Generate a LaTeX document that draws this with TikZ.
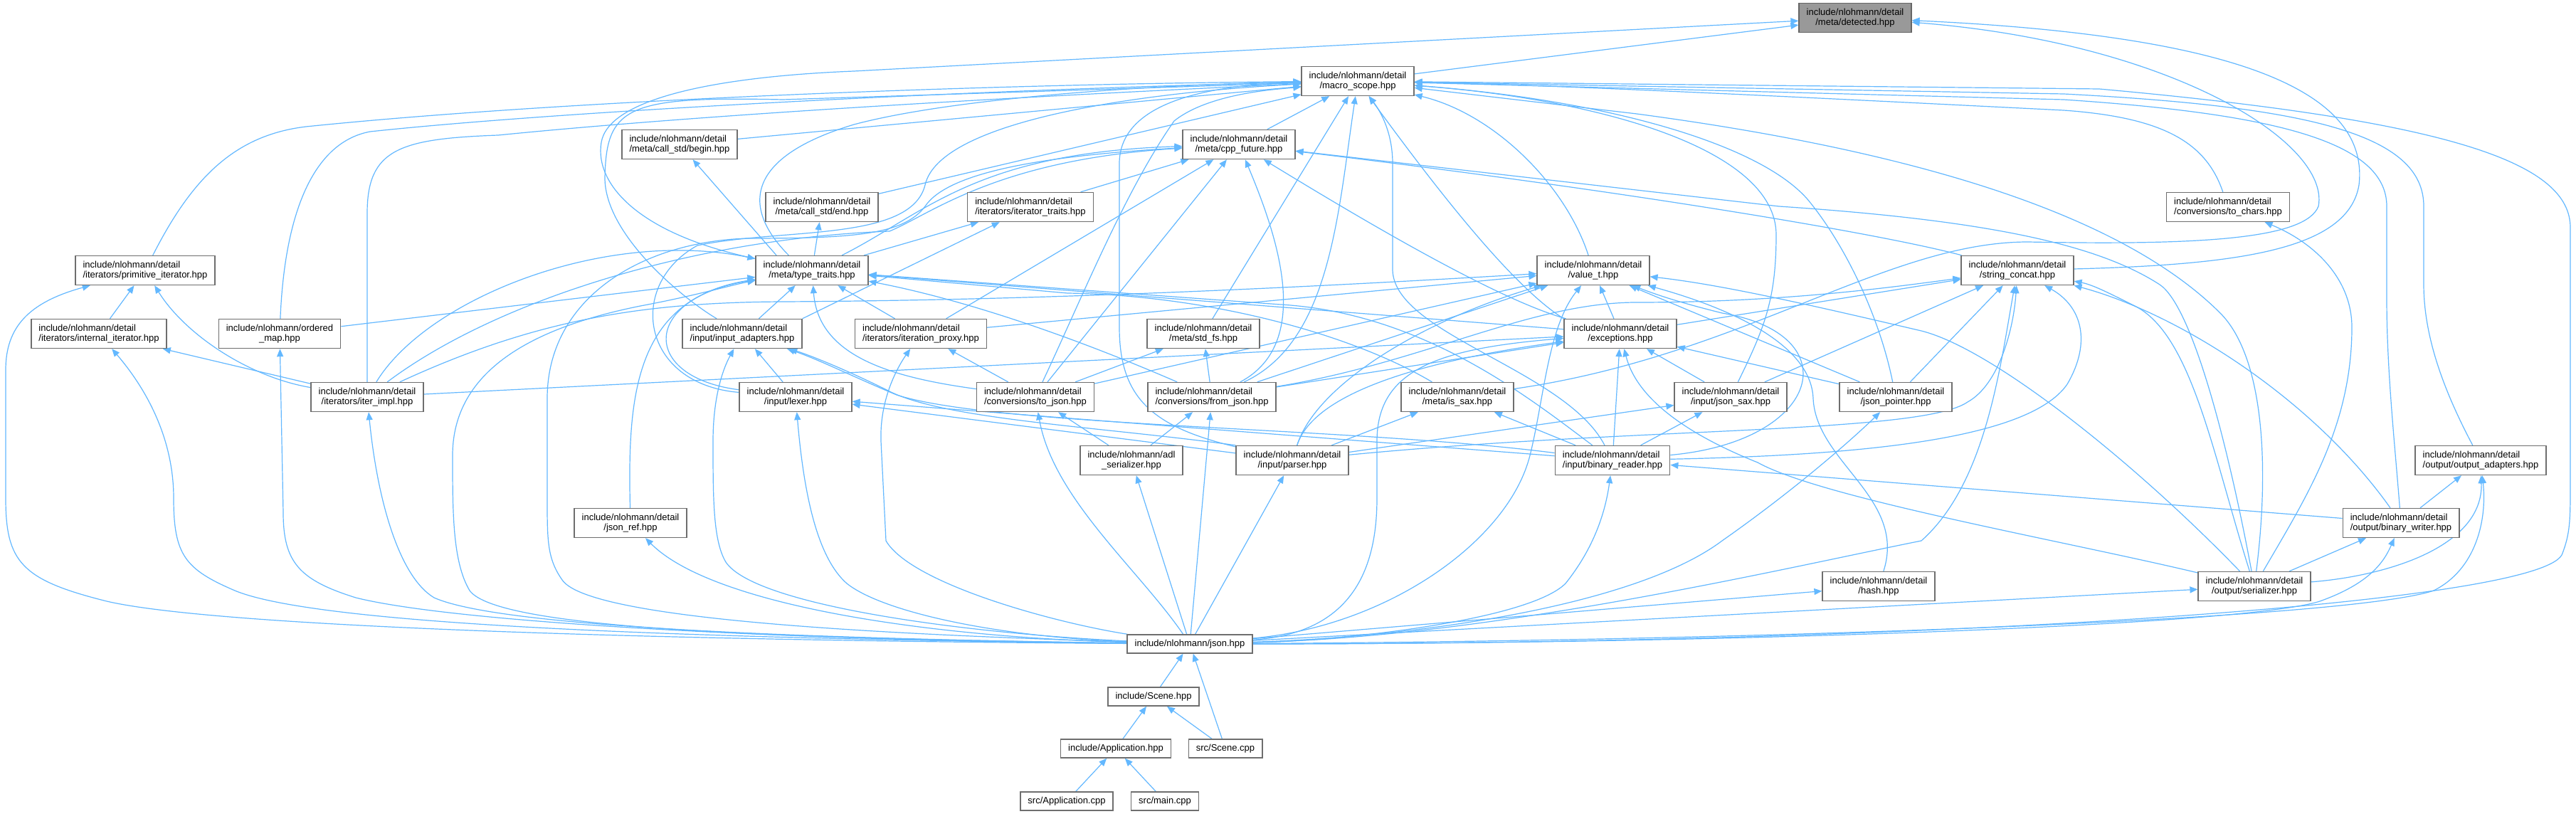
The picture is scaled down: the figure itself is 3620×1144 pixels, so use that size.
\documentclass[tikz,border=0pt]{standalone}
\usepackage{fontspec}
\setmainfont{Liberation Sans}
\usetikzlibrary{arrows.meta,backgrounds}
\definecolor{edgeblue}{RGB}{99,184,255}
\definecolor{nodeborder}{RGB}{110,110,110}
\definecolor{rootfill}{RGB}{153,153,153}
\definecolor{rootborder}{RGB}{102,102,102}

\begin{document}
\begin{tikzpicture}[
  x=0.5pt, y=-0.5pt,
  >={Triangle[length=5.5pt,width=4.5pt]},
  hdr/.style={rectangle, draw=nodeborder, line width=0.7pt, fill=white, align=center, font=\fontsize{6.5}{7.2}\selectfont, inner xsep=5.3pt, inner ysep=2pt, minimum height=20.5pt},
  hdrl/.style={hdr, align=left},
  hdrs/.style={hdr, minimum height=13pt},
  root/.style={hdr, fill=rootfill, draw=rootborder},
  incl/.style={->, draw=edgeblue, line width=0.6pt}
]
\useasboundingbox (0,0) rectangle (3620,1144);
\node[root] (detected) at (2607,25) {include/nlohmann/detail\\/meta/detected.hpp};
\node[hdr] (macro) at (1908,114) {include/nlohmann/detail\\/macro\_scope.hpp};
\node[hdrl] (begin) at (955,203) {include/nlohmann/detail\\/meta/call\_std/begin.hpp};
\node[hdr] (cppfut) at (1741,203) {include/nlohmann/detail\\/meta/cpp\_future.hpp};
\node[hdr] (endh) at (1155,291) {include/nlohmann/detail\\/meta/call\_std/end.hpp};
\node[hdrl] (itertraits) at (1448,291) {include/nlohmann/detail\\/iterators/iterator\_traits.hpp};
\node[hdrl] (tochars) at (3131,291) {include/nlohmann/detail\\/conversions/to\_chars.hpp};
\node[hdrl] (primit) at (204,380) {include/nlohmann/detail\\/iterators/primitive\_iterator.hpp};
\node[hdr] (typetr) at (1141,380) {include/nlohmann/detail\\/meta/type\_traits.hpp};
\node[hdr] (valuet) at (2239,380) {include/nlohmann/detail\\/value\_t.hpp};
\node[hdr] (strcat) at (2835,380) {include/nlohmann/detail\\/string\_concat.hpp};
\node[hdrl] (internal) at (139,469) {include/nlohmann/detail\\/iterators/internal\_iterator.hpp};
\node[hdr] (omap) at (393,469) {include/nlohmann/ordered\\\_map.hpp};
\node[hdrl] (inadapt) at (1043,469) {include/nlohmann/detail\\/input/input\_adapters.hpp};
\node[hdrl] (iterproxy) at (1294,469) {include/nlohmann/detail\\/iterators/iteration\_proxy.hpp};
\node[hdr] (stdfs) at (1691,469) {include/nlohmann/detail\\/meta/std\_fs.hpp};
\node[hdr] (except) at (2277,469) {include/nlohmann/detail\\/exceptions.hpp};
\node[hdr] (iterimpl) at (516,558) {include/nlohmann/detail\\/iterators/iter\_impl.hpp};
\node[hdr] (lexer) at (1118,558) {include/nlohmann/detail\\/input/lexer.hpp};
\node[hdrl] (tojson) at (1455,558) {include/nlohmann/detail\\/conversions/to\_json.hpp};
\node[hdrl] (fromjson) at (1703,558) {include/nlohmann/detail\\/conversions/from\_json.hpp};
\node[hdr] (issax) at (2048,558) {include/nlohmann/detail\\/meta/is\_sax.hpp};
\node[hdr] (jsonsax) at (2432,558) {include/nlohmann/detail\\/input/json\_sax.hpp};
\node[hdr] (jptr) at (2664,558) {include/nlohmann/detail\\/json\_pointer.hpp};
\node[hdr] (adl) at (1590,647) {include/nlohmann/adl\\\_serializer.hpp};
\node[hdr] (parser) at (1816,647) {include/nlohmann/detail\\/input/parser.hpp};
\node[hdrl] (breader) at (2266,647) {include/nlohmann/detail\\/input/binary\_reader.hpp};
\node[hdrl] (oadapt) at (3486,647) {include/nlohmann/detail\\/output/output\_adapters.hpp};
\node[hdr] (jsonref) at (886,735) {include/nlohmann/detail\\/json\_ref.hpp};
\node[hdrl] (bwriter) at (3374,735) {include/nlohmann/detail\\/output/binary\_writer.hpp};
\node[hdr] (hash) at (2640,824) {include/nlohmann/detail\\/hash.hpp};
\node[hdr] (serial) at (3168,824) {include/nlohmann/detail\\/output/serializer.hpp};
\node[hdrs] (json) at (1672,905) {include/nlohmann/json.hpp};
\node[hdrs] (scene) at (1621,979) {include/Scene.hpp};
\node[hdrs] (app) at (1568,1052) {include/Application.hpp};
\node[hdrs] (scenecpp) at (1722,1052) {src/Scene.cpp};
\node[hdrs] (appcpp) at (1499,1126) {src/Application.cpp};
\node[hdrs] (maincpp) at (1637,1126) {src/main.cpp};

\begin{scope}[on background layer]
\fill[white] (0,0) rectangle (3620,1144);
% detected
\draw[incl] (macro) -- (detected);
\draw[incl] (typetr) .. controls (900,330) and (835,260) .. (845,200) .. controls (855,140) and (1000,108) .. (1200,100) -- (detected);
\draw[incl] (issax) .. controls (2450,500) and (2650,340) .. (2850,340) .. controls (3100,345) and (3240,335) .. (3258,290) .. controls (3275,200) and (3050,60) .. (detected);
\draw[incl] (strcat) .. controls (3150,372) and (3300,350) .. (3315,260) .. controls (3330,130) and (3150,50) .. (detected);
% macro_scope
\draw[incl] (cppfut) -- (macro);
\draw[incl] (begin) -- (macro);
\draw[incl] (endh) -- (macro);
\draw[incl] (primit) .. controls (270,250) and (330,190) .. (430,178) .. controls (800,140) and (1400,118) .. (macro);
\draw[incl] (omap) .. controls (400,300) and (440,200) .. (520,185) .. controls (800,155) and (1400,125) .. (macro);
\draw[incl] (iterimpl) -- (516,300) .. controls (516,210) and (560,195) .. (700,190) .. controls (1000,160) and (1450,135) .. (macro);
\draw[incl] (typetr.147) .. controls (1040,290) and (1050,220) .. (1200,175) .. controls (1350,135) and (1650,118) .. (macro);
\draw[incl] (inadapt) .. controls (960,420) and (850,330) .. (850,250) .. controls (852,150) and (880,135) .. (1100,140) -- (macro);
\draw[incl] (lexer) .. controls (900,540) and (880,400) .. (980,345) .. controls (1100,320) and (1280,340) .. (1300,260) .. controls (1320,170) and (1600,130) .. (macro);
\draw[incl] (stdfs) -- (macro);
\draw[incl] (tojson) .. controls (1520,420) and (1580,270) .. (1650,170) .. controls (1700,130) and (1800,125) .. (macro);
\draw[incl] (fromjson) .. controls (1870,480) and (1880,300) .. (macro);
\draw[incl] (parser) .. controls (1620,600) and (1573,560) .. (1573,460) -- (1573,230) .. controls (1573,150) and (1680,120) .. (macro);
\draw[incl] (valuet) .. controls (2200,260) and (2100,160) .. (macro);
\draw[incl] (except.north west) .. controls (2120,400) and (2000,240) .. (macro);
\draw[incl] (breader) .. controls (2200,520) and (1960,470) .. (1957,380) -- (1957,230) .. controls (1957,180) and (1935,150) .. (macro);
\draw[incl] (jsonsax) .. controls (2480,460) and (2496,420) .. (2496,330) .. controls (2496,210) and (2250,140) .. (macro);
\draw[incl] (jptr) .. controls (2640,440) and (2590,340) .. (2540,280) .. controls (2470,200) and (2250,140) .. (macro);
\draw[incl] (tochars) .. controls (3100,200) and (3040,165) .. (2900,155) .. controls (2500,135) and (2200,120) .. (macro);
\draw[incl] (oadapt) .. controls (3440,560) and (3406,480) .. (3406,400) -- (3406,290) .. controls (3406,190) and (3250,150) .. (2900,132) -- (macro);
\draw[incl] (bwriter) .. controls (3365,620) and (3354,520) .. (3354,420) -- (3354,290) .. controls (3354,200) and (3200,160) .. (2900,140) -- (macro);
\draw[incl] (serial) .. controls (3190,650) and (3180,500) .. (3120,440) .. controls (3000,320) and (2750,220) .. (2300,160) -- (macro);
\draw[incl] (json) .. controls (2700,905) and (3560,850) .. (3600,780) .. controls (3612,750) and (3612,730) .. (3612,680) -- (3612,320) .. controls (3612,230) and (3450,170) .. (2950,125) -- (macro);
% cpp_future
\draw[incl] (itertraits) -- (cppfut);
\draw[incl] (typetr) .. controls (1300,300) and (1370,215) .. (cppfut);
\draw[incl] (iterimpl) .. controls (700,420) and (980,335) .. (1250,325) .. controls (1310,300) and (1400,225) .. (cppfut);
\draw[incl] (iterproxy) -- (cppfut);
\draw[incl] (tojson) -- (cppfut);
\draw[incl] (fromjson) .. controls (1850,480) and (1790,320) .. (cppfut);
\draw[incl] (except) .. controls (2100,420) and (1900,300) .. (cppfut);
\draw[incl] (strcat) .. controls (2650,330) and (2300,270) .. (cppfut);
\draw[incl] (serial) .. controls (3130,620) and (3080,430) .. (3035,400) .. controls (2950,345) and (2800,310) .. (2500,290) -- (cppfut);
\draw[incl] (json) .. controls (1300,893) and (830,875) .. (790,815) .. controls (769,785) and (769,760) .. (769,700) -- (769,560) .. controls (769,420) and (900,340) .. (1050,335) .. controls (1200,335) and (1270,330) .. (1300,290) .. controls (1330,245) and (1450,220) .. (cppfut);
% type_traits
\draw[incl] (omap) -- (typetr);
\draw[incl] (iterimpl) .. controls (600,420) and (850,320) .. (typetr);
\draw[incl] (jsonref) .. controls (882,560) and (890,420) .. (typetr);
\draw[incl] (inadapt) -- (typetr);
\draw[incl] (lexer) .. controls (900,530) and (900,420) .. (typetr);
\draw[incl] (iterproxy) -- (typetr);
\draw[incl] (tojson) .. controls (1250,530) and (1150,500) .. (typetr);
\draw[incl] (fromjson) .. controls (1500,470) and (1350,420) .. (typetr);
\draw[incl] (except) -- (typetr);
\draw[incl] (issax) .. controls (1900,470) and (1700,415) .. (1500,412) -- (typetr);
\draw[incl] (breader) .. controls (2150,560) and (2000,440) .. (1800,428) -- (typetr);
\draw[incl] (json) .. controls (1100,897) and (700,885) .. (660,830) .. controls (636,790) and (636,720) .. (636,640) .. controls (636,520) and (750,460) .. (900,430) .. controls (980,415) and (1030,400) .. (typetr);
% begin, end, iterator_traits, to_chars
\draw[incl] (typetr.157) -- (begin);
\draw[incl] (typetr) -- (endh);
\draw[incl] (typetr) -- (itertraits);
\draw[incl] (inadapt.north east) -- (itertraits);
\draw[incl] (serial) .. controls (3240,700) and (3305,600) .. (3305,460) .. controls (3305,390) and (3250,340) .. (tochars);
% iterators
\draw[incl] (internal) -- (primit);
\draw[incl] (iterimpl) .. controls (350,530) and (260,470) .. (primit);
\draw[incl] (iterimpl) -- (internal);
\draw[incl] (json) .. controls (900,900) and (300,880) .. (150,845) .. controls (30,815) and (8,790) .. (8,700) -- (8,520) .. controls (8,460) and (40,425) .. (primit);
\draw[incl] (json) .. controls (1000,898) and (450,880) .. (330,830) .. controls (260,800) and (244,780) .. (244,700) .. controls (244,610) and (200,540) .. (internal);
\draw[incl] (json) .. controls (1100,900) and (640,875) .. (500,840) .. controls (420,815) and (398,790) .. (398,720) -- (omap);
\draw[incl] (json) .. controls (1100,897) and (700,880) .. (610,840) .. controls (560,810) and (530,700) .. (iterimpl);
\draw[incl] (json) .. controls (1300,895) and (1000,850) .. (jsonref);
% input
\draw[incl] (json) .. controls (1350,890) and (1060,850) .. (1020,790) .. controls (1002,760) and (1002,700) .. (1002,620) .. controls (1002,560) and (1015,520) .. (inadapt);
\draw[incl] (lexer) -- (inadapt);
\draw[incl] (parser.north west) .. controls (1550,600) and (1330,590) .. (1250,550) .. controls (1190,520) and (1140,500) .. (inadapt);
\draw[incl] (breader) .. controls (1900,600) and (1400,600) .. (1260,555) .. controls (1200,530) and (1150,505) .. (inadapt);
\draw[incl] (parser) -- (lexer);
\draw[incl] (breader) -- (lexer);
\draw[incl] (json) .. controls (1400,895) and (1240,860) .. (1190,820) .. controls (1150,785) and (1130,700) .. (lexer);
\draw[incl] (tojson) -- (iterproxy);
\draw[incl] (json) .. controls (1480,875) and (1280,820) .. (1245,760) -- (1238,620) .. controls (1236,560) and (1262,515) .. (iterproxy);
% conversions
\draw[incl] (tojson) -- (stdfs);
\draw[incl] (fromjson) -- (stdfs);
\draw[incl] (adl) -- (tojson);
\draw[incl] (adl) -- (fromjson);
\draw[incl] (json) .. controls (1600,800) and (1480,700) .. (tojson);
\draw[incl] (json) -- (fromjson);
\draw[incl] (json) -- (adl);
\draw[incl] (json) -- (parser);
% exceptions
\draw[incl] (iterimpl) -- (except);
\draw[incl] (fromjson) -- (except);
\draw[incl] (parser) .. controls (1850,540) and (2050,500) .. (except);
\draw[incl] (jsonsax) -- (except);
\draw[incl] (jptr) -- (except);
\draw[incl] (breader) -- (except);
\draw[incl] (serial) .. controls (2900,760) and (2560,700) .. (2470,650) .. controls (2370,610) and (2300,560) .. (except);
\draw[incl] (json) .. controls (1900,890) and (1935,800) .. (1935,700) -- (1935,620) .. controls (1935,520) and (2020,490) .. (except);
% value_t
\draw[incl] (except) -- (valuet);
\draw[incl] (iterimpl) .. controls (750,450) and (900,425) .. (1100,424) .. controls (1500,422) and (1900,400) .. (valuet);
\draw[incl] (iterproxy) -- (valuet);
\draw[incl] (tojson) -- (valuet);
\draw[incl] (fromjson) -- (valuet);
\draw[incl] (parser) .. controls (1850,540) and (2000,450) .. (valuet);
\draw[incl] (jptr) -- (valuet);
\draw[incl] (breader) .. controls (2560,620) and (2600,470) .. (2420,440) .. controls (2360,425) and (2330,415) .. (valuet);
\draw[incl] (hash) .. controls (2680,700) and (2552,650) .. (2548,560) .. controls (2545,480) and (2420,430) .. (valuet);
\draw[incl] (serial) .. controls (3000,650) and (2800,490) .. (2700,465) .. controls (2550,430) and (2420,400) .. (valuet);
\draw[incl] (json) .. controls (1950,880) and (2120,760) .. (2150,640) .. controls (2170,560) and (2175,460) .. (valuet);
% string_concat
\draw[incl] (except) -- (strcat);
\draw[incl] (fromjson) .. controls (2000,510) and (2150,425) .. (2300,425) .. controls (2500,425) and (2650,405) .. (strcat);
\draw[incl] (parser) .. controls (2300,600) and (2700,610) .. (2765,565) .. controls (2810,540) and (2830,460) .. (strcat);
\draw[incl] (jsonsax) -- (strcat);
\draw[incl] (jptr) -- (strcat);
\draw[incl] (breader) .. controls (2600,640) and (2850,620) .. (2905,540) .. controls (2940,480) and (2925,430) .. (strcat);
\draw[incl] (bwriter) .. controls (3250,560) and (3060,440) .. (strcat);
\draw[incl] (serial) .. controls (3110,640) and (3080,470) .. (3000,430) .. controls (2960,410) and (2940,400) .. (strcat);
\draw[incl] (json) .. controls (2100,895) and (2500,800) .. (2700,760) .. controls (2790,680) and (2810,520) .. (strcat);
% sax, pointer, binary, output
\draw[incl] (parser) -- (issax);
\draw[incl] (breader) -- (issax);
\draw[incl] (parser) -- (jsonsax);
\draw[incl] (breader) -- (jsonsax);
\draw[incl] (json) .. controls (2000,895) and (2300,850) .. (2420,760) .. controls (2520,690) and (2600,620) .. (jptr);
\draw[incl] (bwriter) -- (breader);
\draw[incl] (json) .. controls (1900,900) and (2150,870) .. (2200,820) .. controls (2240,770) and (2256,720) .. (breader);
\draw[incl] (bwriter) -- (oadapt);
\draw[incl] (serial) .. controls (3350,810) and (3490,770) .. (oadapt);
\draw[incl] (json) .. controls (2500,900) and (3300,870) .. (3420,830) .. controls (3480,800) and (3495,730) .. (oadapt);
\draw[incl] (serial) -- (bwriter);
\draw[incl] (json) .. controls (2400,905) and (3150,880) .. (3260,845) .. controls (3330,820) and (3350,790) .. (bwriter);
\draw[incl] (json) -- (hash);
\draw[incl] (json) -- (serial);
% users of json.hpp
\draw[incl] (scene) -- (json);
\draw[incl] (scenecpp) -- (scene);
\draw[incl] (scenecpp) -- (json);
\draw[incl] (app) -- (scene);
\draw[incl] (appcpp) -- (app);
\draw[incl] (maincpp) -- (app);
\end{scope}
\end{tikzpicture}
\end{document}
